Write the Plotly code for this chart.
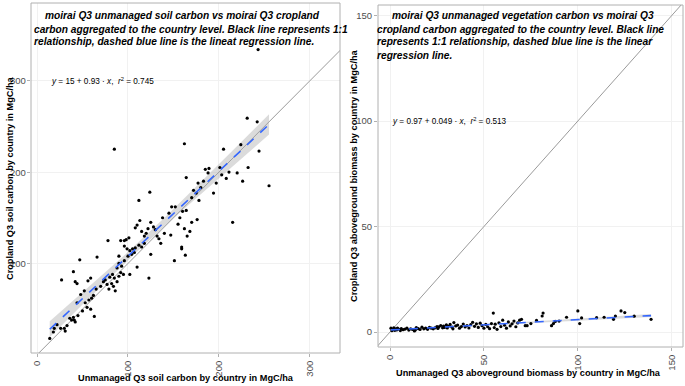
import numpy as np
import plotly.graph_objects as go

# ---------------- data: left panel (soil carbon) ----------------
soil_x = [14, 18, 19, 22, 26, 30, 31, 33, 36, 38, 41, 40, 42, 44, 53, 50, 45, 55, 59, 63, 57, 60,
          27, 40, 42, 44, 47, 56, 59, 66, 48, 52, 62, 65,
          70, 73, 75, 77, 79, 82, 84, 86, 88, 80, 83, 85, 90, 92, 95, 88, 90, 93, 96, 90, 78, 92,
          96, 98, 101, 96, 99, 102, 105, 108, 110, 102, 123, 100, 104, 107, 112, 115, 118, 113,
          112, 124, 108, 110, 115, 118, 120, 122, 125, 128, 130, 125, 136, 132, 134, 140, 147,
          159, 163, 151, 138, 145, 148, 152, 160, 164, 157, 155, 162, 170, 176, 165, 168, 159,
          162, 164, 175, 177, 178, 185, 189, 188, 194, 197, 201, 203, 208, 211, 215, 220, 205,
          224, 232, 226, 244, 255, 170, 172, 180, 183, 85, 231, 242, 243]
soil_y = [18, 25, 29, 33, 29, 29, 26, 32, 40, 38, 38, 41, 36, 57, 57, 48, 43, 52, 50, 42, 60, 62,
          82, 91, 80, 78, 104, 81, 84, 107, 66, 70, 65, 72,
          75, 80, 82, 77, 72, 78, 75, 70, 80, 85, 88, 84, 86, 90, 88, 95, 100, 97, 103, 108, 125,
          125, 125, 126, 128, 119, 116, 114, 116, 117, 96, 88, 84, 108, 110, 112, 120, 118, 122,
          147, 169, 178, 139, 142, 135, 130, 133, 138, 145, 140, 137, 110, 122, 130, 127, 133,
          131, 118, 109, 103, 150, 155, 162, 162, 157, 158, 150, 143, 138, 145, 148, 130, 135,
          116, 231, 194, 177, 188, 169, 203, 204, 199, 177, 188, 205, 197, 193, 200, 145, 199,
          225, 230, 205, 190, 223, 185, 172, 180, 183, 190, 225, 259, 255, 334]
soil_fit = [15, 0.93]        # intercept, slope from the reference label
soil_r2 = 0.745

# ---------------- data: right panel (aboveground biomass) ----------------
agb_x = [0.5, 1, 1.5, 2, 2.5, 3, 3.5, 4, 5, 5.5, 6, 7, 8, 9, 10, 11, 12, 13, 13.5, 14, 15, 16, 17,
         18, 19, 20, 21, 22, 23, 24, 25, 25.5, 26, 27, 28, 28.5, 29, 30, 30.5, 31, 32, 33, 33.5,
         34, 35, 36, 37, 38, 39, 40, 41, 42, 43, 44, 45, 46, 47, 48, 49, 50, 51, 52, 53, 54, 55,
         55.5, 56, 57, 58, 59, 60, 61, 62, 63, 64, 65, 66, 67, 68, 69, 70, 72, 73, 75, 78, 81,
         81.5, 86, 87, 88, 90, 94, 100, 101, 102, 110, 114, 119, 120, 123, 125, 130, 139]
agb_y = [1.8, 0.6, 1.2, 2.0, 0.8, 1.5, 1.0, 1.9, 1.3, 0.7, 1.6, 1.1, 1.4, 1.8, 0.9, 1.5, 1.2, 0.5,
         1.0, 2.1, 1.6, 1.2, 2.3, 1.5, 1.9, 1.3, 2.2, 1.8, 1.5, 2.0, 2.6, 1.7, 2.4, 3.1, 2.0, 2.8,
         2.2, 3.4, 1.9, 2.7, 3.6, 2.3, 1.5, 4.5, 2.9, 3.3, 1.8, 2.6, 3.8, 2.4, 3.1, 1.9, 3.5, 4.6,
         2.7, 3.9, 2.2, 4.2, 3.0, 1.8, 3.6, 2.5, 1.6, 4.0, 9.0, 2.1, 3.7, 1.3, 4.4, 2.6, 5.6, 3.2,
         1.8, 4.8, 2.9, 3.9, 5.2, 2.5, 4.3, 5.6, 6.0, 3.0, 3.0, 4.0, 5.5, 7.6, 9.0, 3.0, 4.0, 5.0,
         5.2, 7.0, 10.0, 4.0, 6.7, 6.8, 7.0, 6.0, 7.6, 10.0, 9.2, 7.5, 6.0]
agb_fit = [0.97, 0.049]
agb_r2 = 0.513

x_ticks_left = [0, 100, 200, 300]
y_ticks_left = [100, 200, 300]
x_ticks_right = [0, 50, 100, 150]
y_ticks_right = [0, 50, 100, 150]


def fit_band(xs, ys, coef):
    xs = np.asarray(xs, float)
    ys = np.asarray(ys, float)
    b0, b1 = coef
    n = len(xs)
    resid = ys - (b0 + b1 * xs)
    s = np.sqrt(np.sum(resid ** 2) / (n - 2))
    xbar = xs.mean()
    sxx = np.sum((xs - xbar) ** 2)
    grid = np.linspace(xs.min(), xs.max(), 80)
    fit = b0 + b1 * grid
    se = s * np.sqrt(1.0 / n + (grid - xbar) ** 2 / sxx)
    return grid, fit, fit - 1.97 * se, fit + 1.97 * se


fig = go.Figure()

FONT = "Liberation Sans, Arial, sans-serif"
BAND = "rgba(170,170,170,0.42)"
BLUE = "#3366FF"
EDGE = "#b0b0b0"
TICKCOL = "#4d4d4d"


def add_panel(xs, ys, coef, xa, ya, line_max):
    grid, fit, lo, hi = fit_band(xs, ys, coef)
    fig.add_trace(go.Scatter(x=[-50, line_max], y=[-50, line_max], mode="lines",
                             line=dict(color="#9a9a9a", width=1), xaxis=xa, yaxis=ya,
                             hoverinfo="skip", showlegend=False))
    fig.add_trace(go.Scatter(x=np.concatenate([grid, grid[::-1]]),
                             y=np.concatenate([hi, lo[::-1]]), fill="toself",
                             fillcolor=BAND, line=dict(width=0), mode="lines",
                             xaxis=xa, yaxis=ya, hoverinfo="skip", showlegend=False))
    fig.add_trace(go.Scatter(x=xs, y=ys, mode="markers",
                             marker=dict(color="black", size=3.2), xaxis=xa, yaxis=ya,
                             showlegend=False))
    fig.add_trace(go.Scatter(x=grid, y=fit, mode="lines",
                             line=dict(color=BLUE, width=1.6, dash="dash"),
                             xaxis=xa, yaxis=ya, hoverinfo="skip", showlegend=False))
    fig.add_shape(type="rect", xref=xa + " domain", yref=ya + " domain", x0=0, x1=1, y0=0, y1=1,
                  line=dict(color=EDGE, width=1), fillcolor="rgba(0,0,0,0)", layer="above")


add_panel(soil_x, soil_y, soil_fit, "x", "y", 500)
add_panel(agb_x, agb_y, agb_fit, "x2", "y2", 300)

axis_common = dict(ticks="outside", ticklen=3, tickcolor=EDGE, automargin=False,
                   tickfont=dict(family=FONT, size=9.5, color=TICKCOL),
                   showgrid=True, gridcolor="#f1f1f1", gridwidth=1, zeroline=False)

W, H = 685, 386
fig.update_layout(
    width=W, height=H, margin=dict(l=0, r=0, t=0, b=0, autoexpand=False),
    paper_bgcolor="white", plot_bgcolor="white",
    xaxis=dict(domain=[31 / W, 340 / W], range=[-6.6, 333], tickvals=x_ticks_left,
               tickangle=-90, anchor="y", **axis_common),
    yaxis=dict(domain=[1 - 353 / H, 1 - 3 / H], range=[2, 385], tickvals=y_ticks_left,
               anchor="x", showticklabels=False, **axis_common),
    xaxis2=dict(domain=[378 / W, 683 / W], range=[-6.4, 156], tickvals=x_ticks_right,
                tickangle=-90, anchor="y2", **axis_common),
    yaxis2=dict(domain=[1 - 347 / H, 1 - 5 / H], range=[-7.1, 155], tickvals=y_ticks_right,
                anchor="x2", **axis_common),
)

# left y tick labels placed on the left y scale
for v in y_ticks_left:
    fig.add_annotation(text=str(v), x=27.5 / W, y=v, xref="paper", yref="y",
                       xanchor="right", yanchor="middle", showarrow=False,
                       font=dict(family=FONT, size=9.5, color=TICKCOL))

TFONT = dict(family=FONT, size=10.2, color="black")


def title_line(text, xpx, ypx, anchor):
    fig.add_annotation(text="<b><i>" + text + "</i></b>", x=xpx / W, y=1 - ypx / H,
                       xref="paper", yref="paper", xanchor=anchor, yanchor="middle",
                       showarrow=False, font=TFONT)


# left title
title_line("moirai Q3 unmanaged soil carbon vs moirai Q3 cropland", 182, 15, "center")
title_line("carbon aggregated to the country level. Black line represents 1:1", 32, 29, "left")
title_line("relationship, dashed blue line is the lineat regression line.", 32, 42, "left")
# right title
title_line("moirai Q3 unmanaged vegetation carbon vs moirai Q3", 523, 15, "center")
title_line("cropland carbon aggregated to the country level. Black line", 375, 29, "left")
title_line("represents 1:1 relationship, dashed blue line is the linear", 375, 42, "left")
title_line("regression line.", 375, 55, "left")

EFONT = dict(family=FONT, size=8.2, color="black")
fig.add_annotation(text="<i>y</i> = %g + %g · <i>x</i>,  <i>r</i><sup>2</sup> = %g" % (soil_fit[0], soil_fit[1], soil_r2),
                   x=13, y=300, xref="x", yref="y", xanchor="left", yanchor="middle",
                   showarrow=False, font=EFONT)
fig.add_annotation(text="<i>y</i> = %g + %g · <i>x</i>,  <i>r</i><sup>2</sup> = %g" % (agb_fit[0], agb_fit[1], agb_r2),
                   x=0, y=100, xref="x2", yref="y2", xanchor="left", yanchor="middle",
                   showarrow=False, font=EFONT)

AFONT = dict(family=FONT, size=9.2, color="black")


def axis_title(text, xpx, ypx, angle):
    fig.add_annotation(text="<b>" + text + "</b>", x=xpx / W, y=1 - ypx / H,
                       xref="paper", yref="paper", xanchor="center", yanchor="middle",
                       showarrow=False, font=AFONT, textangle=angle)


axis_title("Unmanaged Q3 soil carbon by country in MgC/ha", 186, 378, 0)
axis_title("Cropland Q3 soil carbon by country in MgC/ha", 10, 178, -90)
axis_title("Unmanaged Q3 aboveground biomass by country in MgC/ha", 528, 373, 0)
axis_title("Cropland Q3 aboveground biomass by country in MgC/ha", 354, 176, -90)

fig.write_html("out.html", config={"displayModeBar": False},
               post_script="document.body.style.margin='0';")
